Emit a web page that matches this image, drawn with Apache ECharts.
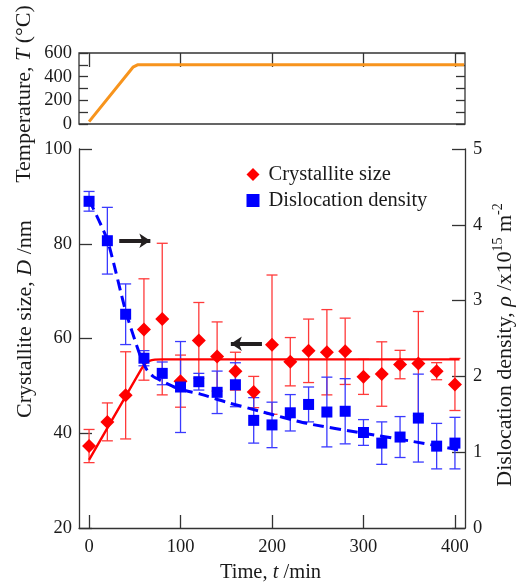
<!DOCTYPE html>
<html><head><meta charset="utf-8">
<script src="https://cdn.jsdelivr.net/npm/echarts@6/dist/echarts.min.js"></script>
<style>html,body{margin:0;padding:0;background:#fff}#c{width:523px;height:588px}</style>
</head><body><div id="c"></div>
<script>
// ---- data ----
const times = [0,20,40,60,80,100,120,140,160,180,200,220,240,260,280,300,320,340,360,380,400];
const sizeD = [37.3,42.4,48.0,61.9,64.1,51.0,59.6,56.2,53.1,48.7,58.7,55.1,57.4,57.1,57.3,51.9,52.5,54.5,54.7,53.1,50.3];
const sizeErr = [3.5,4.0,9.2,10.7,16.0,5.5,8.0,7.3,4.0,3.3,14.7,5.1,6.7,9.0,7.0,3.7,6.8,3.0,11.0,1.8,5.5];
const rho = [4.31,3.79,2.82,2.24,2.04,1.86,1.93,1.79,1.89,1.42,1.36,1.52,1.63,1.53,1.54,1.26,1.12,1.20,1.45,1.08,1.12];
const rhoErr = [0.13,0.44,0.40,0.10,0.15,0.60,0.11,0.28,0.29,0.30,0.30,0.24,0.23,0.46,0.43,0.17,0.28,0.27,0.58,0.30,0.34];
const fitTimeD = [0,40,58,62,66,72,80,405];
const fitD = [34.4,47.8,53.8,54.8,55.3,55.55,55.6,55.6];
const fitTimeRho = [0,20,40,56,63,70,81,99,121,150,187,238,300,350,405];
const fitRho = [4.33,3.80,2.86,2.27,2.09,2.00,1.93,1.83,1.77,1.66,1.54,1.38,1.25,1.15,1.03];
const tempTime = [0,48,50,53,410];
const tempT = [20,480,495,500,500];
const timeTicks = [0,100,200,300,400];
const arrowRho = [[33,3.79],[67,3.79]];
const arrowD = [[189,58.9],[155,58.9]];

const FONT = '"Liberation Serif","DejaVu Serif",serif';
const AX = '#333';
const TXT = '#1a1a1a';
const zip = (a,b) => a.map((v,i)=>[v,b[i]]);

function errRender(color){
  return function(params, api){
    const x = api.value(0), lo = api.value(1), hi = api.value(2);
    const p1 = api.coord([x,lo]), p2 = api.coord([x,hi]);
    const w = 5.5;
    const st = {stroke: color, lineWidth: 1.3};
    return {type:'group', children:[
      {type:'line', shape:{x1:p1[0],y1:p1[1],x2:p2[0],y2:p2[1]}, style:st},
      {type:'line', shape:{x1:p1[0]-w,y1:p1[1],x2:p1[0]+w,y2:p1[1]}, style:st},
      {type:'line', shape:{x1:p2[0]-w,y1:p2[1],x2:p2[0]+w,y2:p2[1]}, style:st}
    ]};
  };
}

const chart = echarts.init(document.getElementById('c'), null, {renderer:'canvas'});
const lbl = {fontFamily: FONT, fontSize: 18.5, color: TXT};
function richSet(fs){
  return {
    n:{fontFamily:FONT,fontSize:fs,fill:TXT,lineHeight:fs+5},
    i:{fontFamily:FONT,fontSize:fs,fontStyle:'italic',fill:TXT,lineHeight:fs+5},
    s:{fontFamily:FONT,fontSize:Math.round(fs*0.62),fill:TXT,lineHeight:Math.round(fs*0.62),verticalAlign:'top'}
  };
}
const richV = richSet(22);
const richH = richSet(20.5);
const line = (show) => ({show:show, onZero:false, lineStyle:{color:AX,width:1.3}});
chart.setOption({
  animation:false,
  backgroundColor:'#fff',
  grid:[
    {left:79, right:58, top:53, height:71, show:true, borderColor:AX, borderWidth:1.3, backgroundColor:'transparent'},
    {left:79, right:58, top:149, bottom:60}
  ],
  xAxis:[
    {gridIndex:0, type:'value', position:'top', min:-11, max:411,
     axisLine:line(false), splitLine:{show:false},
     axisTick:{show:true, inside:true, length:14, customValues:timeTicks, lineStyle:{color:AX,width:1.3}},
     axisLabel:{show:false}},
    {gridIndex:1, type:'value', position:'bottom', min:-11, max:411,
     axisLine:line(true), splitLine:{show:false},
     axisTick:{show:true, inside:true, length:13, customValues:timeTicks, lineStyle:{color:AX,width:1.3}},
     axisLabel:Object.assign({customValues:timeTicks, margin:10}, lbl)}
  ],
  yAxis:[
    {gridIndex:0, type:'value', position:'left', min:0, max:600, interval:100,
     axisLine:line(false), splitLine:{show:false},
     axisTick:{show:true, inside:true, length:9, lineStyle:{color:AX,width:1.3}},
     axisLabel:Object.assign({margin:7, formatter:v=> (v%200===0? String(v):'')}, lbl)},
    {gridIndex:0, type:'value', position:'right', min:0, max:600, interval:100,
     axisLine:line(false), splitLine:{show:false},
     axisTick:{show:true, inside:true, length:9, lineStyle:{color:AX,width:1.3}},
     axisLabel:{show:false}},
    {gridIndex:1, type:'value', position:'left', min:20, max:100, interval:20,
     axisLine:line(true), splitLine:{show:false},
     axisTick:{show:true, inside:true, length:13, lineStyle:{color:AX,width:1.3}},
     axisLabel:Object.assign({margin:7}, lbl)},
    {gridIndex:1, type:'value', position:'right', min:0, max:5, interval:1,
     axisLine:line(true), splitLine:{show:false},
     axisTick:{show:true, inside:true, length:13, lineStyle:{color:AX,width:1.3}},
     axisLabel:Object.assign({margin:8}, lbl)}
  ],
  legend:{
    orient:'vertical', left:246.5, top:164, padding:0, itemGap:5,
    itemWidth:13, itemHeight:13,
    textStyle:{fontFamily:FONT, fontSize:20.5, color:TXT, lineHeight:20, padding:[0,0,0,4]},
    data:[
      {name:'Crystallite size', icon:'diamond', itemStyle:{color:'#ff0000'}},
      {name:'Dislocation density', icon:'rect', itemStyle:{color:'#0000ff'}}
    ]
  },
  series:[
    {name:'Temperature', type:'line', xAxisIndex:0, yAxisIndex:0, data:zip(tempTime,tempT),
     symbol:'none', lineStyle:{color:'#F7941D', width:3}, itemStyle:{color:'#F7941D'}},
    {name:'errD', type:'custom', xAxisIndex:1, yAxisIndex:2, renderItem:errRender('#ff3a3a'),
     data:times.map((t,i)=>[t, sizeD[i]-sizeErr[i], sizeD[i]+sizeErr[i]]), z:2, silent:true},
    {name:'errRho', type:'custom', xAxisIndex:1, yAxisIndex:3, renderItem:errRender('#3a3aff'),
     data:times.map((t,i)=>[t, rho[i]-rhoErr[i], rho[i]+rhoErr[i]]), z:2, silent:true},
    {name:'fitD', type:'line', xAxisIndex:1, yAxisIndex:2, data:zip(fitTimeD,fitD), symbol:'none',
     smooth:0.2, lineStyle:{color:'#ff0000', width:2.4}, z:3,
     markLine:{silent:true, symbol:['none','arrow'], symbolSize:[11,11], label:{show:false},
       lineStyle:{color:'#231f20', width:4, type:'solid'},
       data:[[{coord:arrowD[0]},{coord:arrowD[1]}]]}},
    {name:'fitRho', type:'line', xAxisIndex:1, yAxisIndex:3, data:zip(fitTimeRho,fitRho), symbol:'none',
     smooth:0.2, lineStyle:{color:'#0000ff', width:3, type:[11,6]}, z:3,
     markLine:{silent:true, symbol:['none','arrow'], symbolSize:[11,11], label:{show:false},
       lineStyle:{color:'#231f20', width:4, type:'solid'},
       data:[[{coord:arrowRho[0]},{coord:arrowRho[1]}]]}},
    {name:'Crystallite size', type:'scatter', xAxisIndex:1, yAxisIndex:2, data:zip(times,sizeD),
     symbol:'diamond', symbolSize:14, itemStyle:{color:'#ff0000', opacity:1}, z:4},
    {name:'Dislocation density', type:'scatter', xAxisIndex:1, yAxisIndex:3, data:zip(times,rho),
     symbol:'rect', symbolSize:11, itemStyle:{color:'#0000ff', opacity:1}, z:4}
  ],
  graphic:[
    {type:'text', x:24, y:94, rotation:Math.PI/2,
     style:{text:'{n|Temperature, }{i|T}{n| (°C)}', rich:richV, align:'center', verticalAlign:'middle'}},
    {type:'text', x:25, y:319, rotation:Math.PI/2,
     style:{text:'{n|Crystallite size, }{i|D}{n| /nm}', rich:richV, align:'center', verticalAlign:'middle'}},
    {type:'text', x:505, y:345, rotation:Math.PI/2,
     style:{text:'{n|Dislocation density, }{i|ρ}{n| /x10}{s|15}{n| m}{s|-2}', rich:richV, align:'center', verticalAlign:'middle'}},
    {type:'text', x:270.5, y:573,
     style:{text:'{n|Time, }{i|t}{n| /min}', rich:richH, align:'center', verticalAlign:'middle'}}
  ]
});
</script></body></html>
